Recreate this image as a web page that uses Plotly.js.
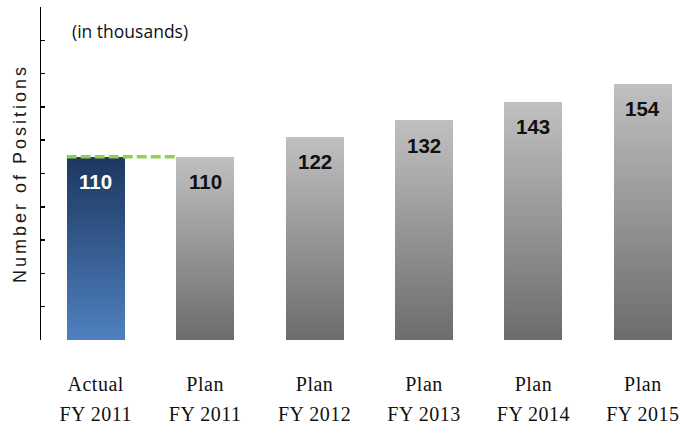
<!DOCTYPE html>
<html>
<head>
<meta charset="utf-8">
<script src="https://cdn.plot.ly/plotly-3.0.1.min.js"></script>
<style>
  html, body { margin: 0; padding: 0; background: #fff; }
  #chart { width: 691px; height: 426px; }
  .ytitle { letter-spacing: 3px; }
  .xtick text, .x2tick text { letter-spacing: 0.5px; }
</style>
</head>
<body>
<div id="chart"></div>
<script>
// ---- data ----
const categoryLine1 = ["Actual", "Plan", "Plan", "Plan", "Plan", "Plan"];
const categoryLine2 = ["FY 2011", "FY 2011", "FY 2012", "FY 2013", "FY 2014", "FY 2015"];
const positions = [110, 110, 122, 132, 143, 154];
const seriesKind = ["actual", "plan", "plan", "plan", "plan", "plan"];

const idx = positions.map((_, i) => i);
const barWidth = 0.53;

const gd = document.getElementById('chart');

const traces = [
  {
    type: 'bar',
    x: idx,
    y: positions,
    width: barWidth,
    marker: { color: seriesKind.map(k => k === 'actual' ? '#2f5486' : '#999999'), line: { width: 0 } },
    hoverinfo: 'skip',
    xaxis: 'x', yaxis: 'y'
  },
  {
    type: 'scatter',
    x: idx,
    y: positions,
    mode: 'none',
    hoverinfo: 'skip',
    showlegend: false,
    xaxis: 'x2', yaxis: 'y'
  }
];

const valueAnnotations = positions.map((v, i) => ({
  x: idx[i], y: v, xref: 'x', yref: 'y',
  text: String(v), showarrow: false,
  yanchor: 'middle', yshift: -25,
  font: { family: 'Liberation Sans, Arial, sans-serif', size: 20.5, color: seriesKind[i] === 'actual' ? '#ffffff' : '#111111', weight: 'bold' }
}));

const layout = {
  width: 691, height: 426,
  margin: { l: 41, r: 0, t: 7, b: 86 },
  paper_bgcolor: '#ffffff', plot_bgcolor: '#ffffff',
  showlegend: false,
  bargap: 0,
  xaxis: {
    range: [-0.5, 5.44], tickmode: 'array', tickvals: idx, ticktext: categoryLine1,
    showline: false, showgrid: false, zeroline: false, ticks: '',
    ticklabelstandoff: 30,
    tickfont: { family: 'Liberation Serif, Times New Roman, serif', size: 20, color: '#111111' }
  },
  xaxis2: {
    overlaying: 'x', anchor: 'y', side: 'bottom',
    range: [-0.5, 5.44], tickmode: 'array', tickvals: idx, ticktext: categoryLine2,
    showline: false, showgrid: false, zeroline: false, ticks: '',
    ticklabelstandoff: 60,
    tickfont: { family: 'Liberation Serif, Times New Roman, serif', size: 20, color: '#111111' }
  },
  yaxis: {
    range: [0, 200], dtick: 20, tick0: 0,
    ticks: 'inside', ticklen: 4, tickwidth: 1.5, tickcolor: '#000000',
    showline: true, linecolor: '#000000', linewidth: 1.5,
    showticklabels: false, showgrid: false, zeroline: false,
    title: { text: 'Number of Positions', standoff: 8, font: { family: 'Liberation Sans, Arial, sans-serif', size: 18, color: '#1a1a1a' } }
  },
  shapes: [{
    type: 'line', xref: 'x', yref: 'y',
    x0: idx[0] - barWidth / 2, x1: idx[1] - barWidth / 2,
    y0: positions[0], y1: positions[1],
    line: { color: '#92d050', width: 3.5, dash: '10px,4px' }
  }],
  annotations: valueAnnotations.concat([{
    xref: 'paper', yref: 'paper', x: 0.0446, y: 0.927,
    xanchor: 'left', yanchor: 'middle', showarrow: false,
    text: '(in thousands)',
    font: { family: 'Open Sans, sans-serif', size: 17.5, color: '#111111' }
  }])
};

Plotly.newPlot(gd, traces, layout, { staticPlot: true, displayModeBar: false }).then(() => {
  const svg = gd.querySelector('svg.main-svg');
  const ns = 'http://www.w3.org/2000/svg';
  let defs = svg.querySelector('defs');
  if (!defs) { defs = document.createElementNS(ns, 'defs'); svg.insertBefore(defs, svg.firstChild); }
  function addGrad(id, top, bottom) {
    const g = document.createElementNS(ns, 'linearGradient');
    g.setAttribute('id', id);
    g.setAttribute('x1', '0'); g.setAttribute('y1', '0');
    g.setAttribute('x2', '0'); g.setAttribute('y2', '1');
    [[0, top], [1, bottom]].forEach(([o, c]) => {
      const s = document.createElementNS(ns, 'stop');
      s.setAttribute('offset', o);
      s.setAttribute('stop-color', c);
      g.appendChild(s);
    });
    defs.appendChild(g);
  }
  addGrad('gradActual', '#1c3760', '#4f80bf');
  addGrad('gradPlan', '#c0c0c0', '#6c6c6c');
  const paths = gd.querySelectorAll('.barlayer .trace .point path');
  paths.forEach((p, i) => {
    p.style.fill = seriesKind[i] === 'actual' ? 'url(#gradActual)' : 'url(#gradPlan)';
  });
});
</script>
</body>
</html>
